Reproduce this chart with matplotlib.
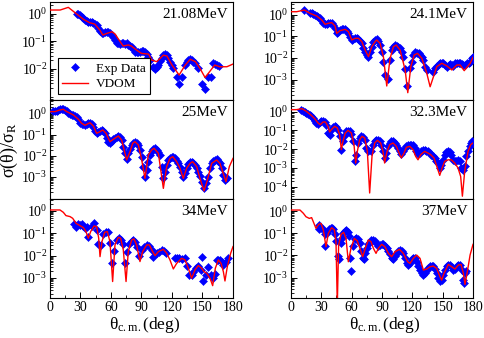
import matplotlib
matplotlib.use("Agg")
import matplotlib.pyplot as plt
from matplotlib.ticker import FixedLocator, LogLocator, NullFormatter, MultipleLocator
import numpy as np

plt.rcParams['font.family'] = ['Liberation Serif', 'DejaVu Serif']
plt.rcParams['mathtext.fontset'] = 'custom'
plt.rcParams['mathtext.rm'] = 'Liberation Serif'
plt.rcParams['mathtext.it'] = 'Liberation Serif:italic'
plt.rcParams['mathtext.default'] = 'regular'
plt.rcParams['axes.unicode_minus'] = False

# ---- 21.08 MeV ----
th_exp_2108 = [26.2, 27.9, 29.5, 31.1, 32.8, 34.4, 36.1, 37.7, 39.3, 41.0, 42.6, 44.3, 45.9, 47.5, 49.2,
               50.8, 52.5, 54.1, 55.7, 57.4, 59.0, 60.7, 62.3, 63.9, 65.6, 67.2, 68.9, 70.5, 72.1, 73.8,
               75.4, 77.0, 78.7, 80.3, 82.0, 83.6, 85.2, 86.9, 88.5, 90.2, 91.8, 93.4, 95.1, 96.7, 98.4,
               101.6, 103.3, 104.9, 106.6, 108.2, 109.8, 111.5, 113.1, 114.8, 116.4, 118.0, 119.7, 121.3,
               124.6, 126.9, 129.5, 132.8, 134.4, 136.1, 137.7, 139.3, 141.0, 142.6, 145.9, 149.2, 152.5,
               155.7, 158.0, 160.7, 162.3, 163.9, 166.6]
sig_exp_2108 = [0.97, 0.95, 0.90, 0.78, 0.68, 0.59, 0.54, 0.50, 0.51, 0.48, 0.46, 0.42, 0.39, 0.29, 0.24,
                0.204, 0.193, 0.21, 0.215, 0.21, 0.193, 0.168, 0.146, 0.110, 0.088, 0.083, 0.081, 0.083,
                0.083, 0.079, 0.083, 0.073, 0.067, 0.063, 0.050, 0.0415, 0.039, 0.0415, 0.0415, 0.044,
                0.044, 0.0415, 0.034, 0.026, 0.0207, 0.0118, 0.0095, 0.0118, 0.0136, 0.019, 0.024, 0.031,
                0.034, 0.031, 0.024, 0.018, 0.0136, 0.0103, 0.0048, 0.0029, 0.0048, 0.0136, 0.018, 0.0207,
                0.022, 0.0207, 0.018, 0.0156, 0.0103, 0.0029, 0.0019, 0.0048, 0.0048, 0.0156, 0.0148,
                0.0136, 0.0125]
th_vdom_2108 = [0, 10, 18, 24.6, 33, 39, 44, 49, 52, 56, 61, 64, 69, 72, 77, 80, 85, 90, 97, 100, 105,
                111.5, 115, 120, 127, 133, 138, 143, 147.5, 152.5, 157, 162, 167, 174, 180]
sig_vdom_2108 = [1.36, 1.36, 1.7, 1.09, 0.62, 0.47, 0.42, 0.255, 0.168, 0.193, 0.22, 0.182, 0.096, 0.067,
                 0.073, 0.067, 0.048, 0.036, 0.034, 0.0207, 0.018, 0.031, 0.029, 0.0136, 0.0059, 0.0136,
                 0.022, 0.018, 0.0103, 0.0048, 0.0078, 0.0136, 0.0118, 0.0118, 0.0148]

# ---- 24.1 MeV ----
th_exp_241 = [13.2, 18.8, 20.5, 22.1, 23.8, 25.4, 27.1, 28.7, 30.4, 32.0, 33.7, 35.3, 37.0, 38.6, 40.3,
              41.9, 43.6, 45.2, 46.9, 48.5, 50.2, 51.8, 53.5, 55.1, 56.8, 58.4, 60.1, 61.7, 63.4, 65.0,
              66.7, 68.3, 70.0, 71.6, 73.3, 74.9, 76.6, 78.2, 79.9, 81.5, 83.2, 84.8, 86.5, 88.1, 89.8,
              91.4, 93.1, 96.4, 98.0, 99.7, 101.3, 103.0, 104.6, 106.3, 107.9, 109.6, 111.2, 112.9, 114.5,
              117.8, 119.5, 121.1, 122.8, 124.4, 126.1, 127.7, 129.4, 131.0, 132.7, 134.3, 140.9, 142.6,
              144.2, 145.9, 147.5, 149.2, 150.8, 152.5, 154.1, 155.8, 157.4, 159.1, 160.7, 162.4, 164.0,
              165.7, 167.3, 169.0, 170.6, 172.3, 173.9, 175.6, 177.2, 178.9, 179.6]
sig_exp_241 = [1.64, 1.24, 1.15, 1.07, 0.97, 0.90, 0.81, 0.68, 0.53, 0.40, 0.36, 0.37, 0.40, 0.43, 0.40,
               0.33, 0.234, 0.148, 0.164, 0.196, 0.21, 0.218, 0.21, 0.183, 0.137, 0.090, 0.068, 0.073,
               0.081, 0.081, 0.073, 0.063, 0.0475, 0.028, 0.0196, 0.0137, 0.0115, 0.0196, 0.033, 0.053,
               0.068, 0.073, 0.063, 0.040, 0.0196, 0.0068, 0.00164, 0.00107, 0.0081, 0.0234, 0.033, 0.040,
               0.036, 0.033, 0.028, 0.0196, 0.0115, 0.0031, 0.00051, 0.0033, 0.0068, 0.0137, 0.0196,
               0.0176, 0.0164, 0.0137, 0.0107, 0.0081, 0.0040, 0.0028, 0.00234, 0.0033, 0.0043, 0.0053,
               0.0057, 0.0061, 0.0057, 0.00475, 0.0040, 0.00475, 0.0051, 0.00475, 0.0043, 0.0057, 0.0061,
               0.0061, 0.0057, 0.0053, 0.00475, 0.00475, 0.0057, 0.0057, 0.0068, 0.0097, 0.0115]
th_vdom_241 = [0, 5.6, 13.2, 18.8, 25.4, 30.4, 33.7, 37.0, 40.3, 43.6, 45.2, 48.5, 53.5, 56.8, 60.1, 63.4,
               66.7, 70.0, 73.3, 76.6, 79.9, 83.2, 84.8, 88.1, 91.4, 94.7, 98.0, 101.3, 104.0, 107.9,
               112.9, 115.5, 118.5, 121.8, 125.1, 129.4, 134.3, 137.6, 140.9, 144.2, 149.2, 154.1, 159.1,
               164.0, 167.3, 171.3, 177.2, 180]
sig_vdom_241 = [1.37, 1.37, 1.64, 1.15, 0.87, 0.57, 0.36, 0.40, 0.43, 0.30, 0.137, 0.183, 0.21, 0.164,
                0.068, 0.081, 0.081, 0.057, 0.0234, 0.0115, 0.033, 0.057, 0.068, 0.0475, 0.0115, 0.00051,
                0.0097, 0.033, 0.040, 0.0234, 0.0028, 0.00025, 0.0040, 0.0137, 0.0164, 0.0097, 0.00196,
                0.00047, 0.00137, 0.0040, 0.0057, 0.0043, 0.0028, 0.00475, 0.00475, 0.0026, 0.0057, 0.0107]

# ---- 25 MeV ----
th_exp_25 = [2.6, 4.9, 6.6, 8.2, 9.8, 11.5, 13.1, 14.8, 16.4, 18.0, 19.7, 21.3, 23.0, 24.6, 26.2, 27.9,
             29.5, 31.1, 32.8, 34.4, 36.1, 37.7, 39.3, 41.0, 42.6, 44.3, 45.9, 47.5, 49.2, 50.8, 52.5,
             54.1, 55.7, 57.4, 59.0, 60.7, 62.3, 63.9, 65.6, 67.2, 68.9, 70.5, 72.1, 73.8, 75.4, 77.0,
             78.7, 80.3, 82.0, 83.6, 85.2, 86.9, 88.5, 90.2, 91.8, 93.4, 95.1, 96.7, 98.4, 100.0, 101.6,
             103.3, 104.9, 106.6, 108.2, 109.8, 111.5, 113.1, 114.8, 116.4, 118.0, 119.7, 121.3, 123.0,
             124.6, 126.2, 127.9, 129.5, 131.1, 132.8, 134.4, 136.1, 137.7, 139.3, 141.0, 142.6, 144.3,
             145.9, 147.5, 149.2, 151.5, 153.4, 155.7, 157.4, 159.0, 160.7, 162.3, 163.9, 165.6, 167.2,
             168.9, 170.5, 172.5, 174.4]
sig_exp_25 = [1.34, 1.34, 1.39, 1.49, 1.60, 1.66, 1.60, 1.49, 1.29, 1.11, 0.96, 0.86, 0.86, 0.80, 0.72,
              0.54, 0.37, 0.32, 0.31, 0.30, 0.32, 0.35, 0.37, 0.32, 0.24, 0.156, 0.117, 0.140, 0.156,
              0.168, 0.156, 0.117, 0.068, 0.047, 0.042, 0.052, 0.061, 0.068, 0.081, 0.087, 0.075, 0.056,
              0.0273, 0.0132, 0.0069, 0.0132, 0.0204, 0.033, 0.042, 0.047, 0.042, 0.033, 0.019, 0.0092,
              0.0031, 0.00096, 0.00214, 0.0053, 0.011, 0.0176, 0.0204, 0.0228, 0.019, 0.0158, 0.011,
              0.0031, 0.00086, 0.00178, 0.0037, 0.0064, 0.0076, 0.0085, 0.0092, 0.0076, 0.0059, 0.0044,
              0.0031, 0.00178, 0.00103, 0.00149, 0.0026, 0.0041, 0.0049, 0.0053, 0.0048, 0.0037, 0.0026,
              0.00178, 0.00111, 0.0006, 0.00029, 0.0005, 0.00103, 0.0026, 0.0044, 0.0057, 0.0064, 0.0069,
              0.0059, 0.0044, 0.0026, 0.00124, 0.00072, 0.00086]
th_vdom_25 = [0, 4.9, 9.8, 13.1, 16.4, 19.7, 23.0, 27.9, 31.1, 34.4, 36.7, 39.3, 42.6, 45.9, 49.2, 51.8,
              55.1, 59.0, 62.3, 67.2, 70.5, 75.4, 78.7, 81.3, 83.6, 86.9, 90.2, 93.4, 96.7, 100.0, 102.3,
              106.6, 111.5, 114.8, 118.0, 120.7, 124.6, 127.9, 131.1, 134.4, 137.7, 140.3, 144.3, 147.5,
              151.5, 154.8, 159.0, 163.9, 167.2, 169.8, 173.1, 176.4, 180]
sig_vdom_25 = [1.24, 1.24, 1.49, 1.60, 1.24, 1.04, 0.86, 0.54, 0.35, 0.28, 0.32, 0.37, 0.26, 0.117, 0.140,
               0.168, 0.117, 0.047, 0.061, 0.087, 0.056, 0.0064, 0.0158, 0.039, 0.047, 0.033, 0.0064,
               0.00086, 0.011, 0.019, 0.0228, 0.0132, 0.00029, 0.0031, 0.0076, 0.0092, 0.0053, 0.0026,
               0.00086, 0.0026, 0.0044, 0.0053, 0.0031, 0.00086, 0.00022, 0.00072, 0.0044, 0.0064, 0.0044,
               0.00178, 0.0006, 0.0031, 0.0076]

# ---- 32.3 MeV ----
th_exp_323 = [10.2, 11.9, 13.5, 15.2, 16.8, 18.5, 20.1, 21.8, 23.4, 25.1, 26.7, 28.4, 30.0, 31.7, 33.3,
              34.9, 36.6, 38.2, 39.9, 41.5, 43.2, 44.8, 46.5, 48.1, 49.8, 51.4, 53.1, 54.7, 56.4, 58.0,
              59.7, 61.3, 63.0, 64.6, 66.3, 67.9, 69.6, 71.2, 72.9, 74.5, 76.2, 79.5, 81.1, 82.8, 84.4,
              86.1, 87.7, 89.4, 91.0, 92.6, 94.3, 95.9, 97.6, 99.2, 100.9, 102.5, 104.2, 105.8, 107.5,
              109.1, 110.8, 112.4, 114.1, 115.7, 117.4, 119.0, 120.7, 122.3, 124.0, 125.6, 127.3, 128.9,
              130.6, 132.2, 133.9, 135.5, 137.2, 138.8, 140.5, 142.1, 143.8, 145.4, 147.1, 148.7, 150.3,
              152.0, 153.6, 155.3, 156.9, 158.6, 160.2, 161.9, 163.5, 165.2, 166.8, 168.5, 170.1, 171.8,
              173.4, 175.1, 176.7, 178.4, 179.5]
sig_exp_323 = [1.27, 1.12, 0.95, 0.84, 0.78, 0.69, 0.61, 0.46, 0.33, 0.25, 0.218, 0.28, 0.30, 0.33, 0.28,
               0.185, 0.072, 0.059, 0.109, 0.145, 0.171, 0.151, 0.109, 0.048, 0.0094, 0.026, 0.059, 0.089,
               0.096, 0.089, 0.064, 0.026, 0.00224, 0.0051, 0.0212, 0.039, 0.048, 0.044, 0.032, 0.0115,
               0.0076, 0.0076, 0.0173, 0.026, 0.032, 0.032, 0.026, 0.0173, 0.0076, 0.0034, 0.0062, 0.0141,
               0.0212, 0.026, 0.026, 0.0212, 0.0173, 0.0115, 0.0076, 0.0055, 0.0076, 0.0115, 0.0141,
               0.0173, 0.0173, 0.0173, 0.016, 0.0115, 0.0076, 0.0055, 0.0062, 0.0076, 0.0094, 0.0094,
               0.0083, 0.0076, 0.0062, 0.0051, 0.0041, 0.0034, 0.00224, 0.00182, 0.00099, 0.00149, 0.0027,
               0.0047, 0.0068, 0.0076, 0.0068, 0.0051, 0.0027, 0.00224, 0.0024, 0.0027, 0.0024, 0.00099,
               0.0008, 0.00121, 0.0041, 0.0076, 0.0141, 0.0212, 0.026]
th_vdom_323 = [0, 5.3, 10.9, 15.2, 20.1, 23.4, 26.7, 29.0, 31.7, 34.0, 36.6, 38.2, 39.9, 43.2, 45.8, 48.1,
               49.8, 51.4, 53.7, 56.4, 59.7, 62.3, 64.0, 65.6, 67.9, 70.2, 72.9, 75.5, 77.8, 80.1, 82.8,
               85.4, 88.7, 91.0, 92.6, 95.0, 97.6, 100.9, 104.2, 107.5, 109.1, 111.8, 114.1, 117.4, 120.7,
               123.3, 125.6, 128.3, 132.2, 135.5, 138.1, 141.4, 144.7, 147.1, 149.4, 152.0, 155.3, 158.6,
               161.9, 165.2, 167.8, 169.5, 171.8, 175.1, 177.7, 180.0]
sig_vdom_323 = [1.27, 1.27, 1.43, 1.03, 0.63, 0.42, 0.25, 0.20, 0.28, 0.28, 0.164, 0.082, 0.109, 0.164,
                0.134, 0.059, 0.0094, 0.026, 0.072, 0.100, 0.072, 0.0173, 0.00182, 0.0076, 0.032, 0.048,
                0.039, 0.0076, 4.6e-5, 0.0041, 0.0212, 0.0294, 0.0212, 0.0076, 0.00182, 0.0076, 0.0173,
                0.0212, 0.0141, 0.0051, 0.0034, 0.0062, 0.0125, 0.0141, 0.0094, 0.0041, 0.0027, 0.0051,
                0.0076, 0.0062, 0.0051, 0.0034, 0.00099, 0.0004, 0.00099, 0.00224, 0.0027, 0.0027,
                0.00182, 0.00099, 0.00035, 3.1e-5, 0.00066, 0.0076, 0.0173, 0.0212]

# ---- 34 MeV ----
th_exp_34 = [23.6, 25.6, 27.9, 29.5, 31.1, 32.8, 34.4, 36.1, 37.7, 41.0, 43.3, 45.9, 47.5, 49.8, 52.5,
             55.1, 56.7, 59.0, 61.0, 63.3, 65.6, 67.9, 69.5, 71.5, 73.8, 76.1, 78.0, 80.3, 82.0, 83.6,
             85.9, 87.9, 90.2, 92.5, 95.1, 97.7, 100.0, 101.6, 104.9, 107.5, 109.8, 112.1, 114.1, 123.0,
             124.6, 127.2, 129.5, 132.8, 135.1, 137.0, 139.3, 141.0, 143.6, 145.9, 148.2, 149.5, 150.8,
             153.4, 155.7, 158.0, 160.0, 162.3, 163.9, 165.6, 167.2, 168.9, 170.5, 173.1, 175.4]
sig_exp_34 = [0.253, 0.199, 0.253, 0.236, 0.253, 0.22, 0.18, 0.199, 0.071, 0.22, 0.28, 0.141, 0.0321,
              0.030, 0.090, 0.111, 0.111, 0.0356, 0.0045, 0.0162, 0.050, 0.060, 0.050, 0.0321, 0.0045,
              0.0141, 0.0321, 0.045, 0.050, 0.042, 0.0253, 0.0097, 0.0179, 0.0253, 0.030, 0.027, 0.0179,
              0.0090, 0.0127, 0.0151, 0.0179, 0.0162, 0.0127, 0.0076, 0.0076, 0.0076, 0.0071, 0.0076,
              0.0036, 0.00136, 0.00136, 0.00179, 0.0029, 0.0034, 0.00228, 0.0090, 0.00073, 0.00136,
              0.0032, 0.0013, 0.00097, 0.00146, 0.0064, 0.0064, 0.0064, 0.0054, 0.0038, 0.0054, 0.0076]
th_vdom_34 = [0, 9.8, 13.1, 15.7, 19.7, 22.3, 25.6, 29.5, 32.8, 35.4, 37.7, 40.0, 43.3, 45.9, 47.9, 49.2,
              51.1, 53.8, 56.4, 59.0, 61.6, 63.9, 67.2, 69.5, 72.1, 74.8, 77.0, 80.3, 82.6, 85.2, 88.5,
              91.1, 95.1, 97.7, 101.0, 103.3, 106.6, 111.5, 114.8, 118.0, 121.3, 124.6, 129.5, 132.8,
              136.1, 139.3, 142.6, 145.9, 149.2, 151.5, 154.1, 157.4, 160.0, 162.6, 165.6, 168.2, 170.5,
              172.1, 174.4, 177.7, 180]
sig_vdom_34 = [1.11, 1.11, 0.87, 0.62, 0.56, 0.47, 0.28, 0.22, 0.18, 0.119, 0.060, 0.119, 0.213, 0.199,
               0.060, 0.0090, 0.042, 0.111, 0.119, 0.042, 0.00069, 0.030, 0.066, 0.060, 0.0179, 0.00069,
               0.0151, 0.050, 0.056, 0.030, 0.0054, 0.0151, 0.030, 0.030, 0.0151, 0.0100, 0.0151, 0.0192,
               0.0127, 0.0064, 0.00253, 0.0045, 0.0076, 0.0064, 0.0027, 0.00097, 0.00228, 0.0036, 0.0027,
               0.00192, 0.00162, 0.00097, 0.00045, 0.0027, 0.0064, 0.0045, 0.00192, 0.00073, 0.0032,
               0.0127, 0.0253]

# ---- 37 MeV ----
th_exp_37 = [27.7, 27.7, 29.3, 31.7, 33.3, 34.0, 35.9, 37.3, 39.2, 40.6, 41.5, 43.2, 44.8, 46.5, 47.1,
             49.1, 50.4, 51.4, 53.1, 54.7, 56.4, 57.4, 58.0, 59.0, 61.3, 63.0, 64.6, 66.3, 67.9, 69.6,
             71.2, 72.2, 73.5, 74.9, 76.2, 77.8, 79.5, 81.1, 82.8, 84.4, 86.1, 88.0, 89.7, 91.3, 92.9,
             94.6, 96.3, 97.9, 99.6, 101.2, 102.9, 104.5, 106.2, 107.8, 109.5, 111.1, 112.8, 114.4, 116.1,
             117.7, 119.4, 121.0, 122.7, 124.3, 125.9, 127.6, 129.2, 130.9, 132.5, 134.2, 135.8, 137.5,
             139.1, 140.8, 142.4, 144.1, 145.7, 147.4, 149.0, 150.7, 152.3, 154.0, 155.6, 157.3, 158.9,
             160.6, 162.2, 163.9, 165.5, 167.2, 168.8, 170.5, 171.1, 172.1, 173.1]
sig_exp_37 = [0.228, 0.151, 0.179, 0.151, 0.090, 0.0266, 0.106, 0.151, 0.167, 0.179, 0.151, 0.090, 0.045,
              0.0094, 0.0066, 0.0376, 0.063, 0.106, 0.126, 0.141, 0.114, 0.075, 0.0079, 0.00197, 0.0266,
              0.053, 0.063, 0.057, 0.0376, 0.0158, 0.0079, 0.0066, 0.0133, 0.022, 0.0316, 0.040, 0.050,
              0.048, 0.045, 0.036, 0.0266, 0.0285, 0.0316, 0.0316, 0.0266, 0.0224, 0.0158, 0.0112, 0.0079,
              0.0066, 0.0094, 0.0133, 0.0158, 0.0169, 0.0158, 0.0124, 0.0079, 0.0047, 0.0039, 0.0047,
              0.0066, 0.0079, 0.0074, 0.0052, 0.0034, 0.00219, 0.00155, 0.0013, 0.00155, 0.00219, 0.0028,
              0.0033, 0.0034, 0.0033, 0.00243, 0.00155, 0.00092, 0.0007, 0.00077, 0.0013, 0.00219, 0.0034,
              0.0039, 0.0037, 0.0031, 0.00219, 0.00243, 0.0033, 0.0039, 0.0037, 0.00219, 0.00077, 0.00055,
              0.00155, 0.00197]
th_vdom_37 = [0, 8.9, 12.2, 14.8, 18.1, 20.4, 22.7, 24.7, 27.4, 29.7, 32.0, 34.6, 36.9, 40.2, 42.9, 44.5,
              45.8, 47.1, 49.5, 52.1, 54.4, 56.7, 59.3, 62.6, 65.6, 68.2, 70.9, 73.5, 76.5, 79.1, 81.5,
              84.1, 86.4, 89.7, 92.9, 96.3, 99.6, 102.9, 107.2, 111.1, 115.4, 117.7, 121.0, 124.3, 127.6,
              130.9, 134.2, 137.5, 140.8, 144.1, 147.4, 149.0, 151.3, 155.6, 158.9, 162.2, 165.5, 168.2,
              170.5, 172.1, 174.4, 177.1, 180]
sig_vdom_37 = [1.12, 1.12, 0.80, 0.56, 0.47, 0.51, 0.28, 0.167, 0.253, 0.28, 0.141, 0.0248, 0.099, 0.179,
               0.141, 0.042, 5.7e-5, 0.0295, 0.090, 0.110, 0.059, 0.0052, 0.0209, 0.059, 0.045, 0.0209,
               0.0088, 0.0209, 0.050, 0.042, 0.0209, 0.0124, 0.0209, 0.0316, 0.0248, 0.0124, 0.0088,
               0.0148, 0.0188, 0.0124, 0.0052, 0.0044, 0.0074, 0.0104, 0.0074, 0.00219, 0.00243, 0.0031,
               0.0033, 0.0026, 0.00109, 0.00077, 0.00155, 0.0039, 0.0031, 0.00243, 0.0037, 0.0039,
               0.00155, 0.00049, 0.00184, 0.0104, 0.0316]

energies = ["21.08MeV", "24.1MeV", "25MeV", "32.3MeV", "34MeV", "37MeV"]

W, H = 485, 338
fig = plt.figure(figsize=(W / 100, H / 100), dpi=100)

# pixel boxes (left, top, right, bottom)
boxes = [(50, 2, 233, 100), (291, 2, 473, 100),
         (50, 100, 233, 199), (291, 100, 473, 199),
         (50, 199, 233, 298), (291, 199, 473, 298)]
ylims = [(7.3e-4, 2.66), (1.15e-4, 3.85), (9.1e-5, 4.4), (2.2e-5, 4.15), (1.26e-4, 3.44), (1.2e-4, 3.53)]
majors = [[1, 1e-1, 1e-2], [1, 1e-1, 1e-2, 1e-3], [1, 1e-1, 1e-2, 1e-3],
          [1, 1e-1, 1e-2, 1e-3, 1e-4], [1, 1e-1, 1e-2, 1e-3], [1, 1e-1, 1e-2, 1e-3]]
data = [(th_exp_2108, sig_exp_2108, th_vdom_2108, sig_vdom_2108),
        (th_exp_241, sig_exp_241, th_vdom_241, sig_vdom_241),
        (th_exp_25, sig_exp_25, th_vdom_25, sig_vdom_25),
        (th_exp_323, sig_exp_323, th_vdom_323, sig_vdom_323),
        (th_exp_34, sig_exp_34, th_vdom_34, sig_vdom_34),
        (th_exp_37, sig_exp_37, th_vdom_37, sig_vdom_37)]

axes = []
for i, (l, t, r, b) in enumerate(boxes):
    ax = fig.add_axes([l / W, (H - b) / H, (r - l) / W, (b - t) / H])
    te, se, tv, sv = data[i]
    ax.plot(te, se, linestyle='none', marker='D', ms=3.6, mfc='#0000ff', mec='#0000ff',
            mew=0.4, label='Exp Data', zorder=3)
    ax.plot(tv, sv, color='#ff0000', lw=1.0, label='VDOM', zorder=4)
    ax.set_yscale('log')
    ax.set_xlim(0, 180)
    ax.set_ylim(*ylims[i])
    ax.yaxis.set_major_locator(FixedLocator(majors[i]))
    ax.yaxis.set_minor_locator(LogLocator(base=10, subs=np.arange(2, 10), numticks=30))
    ax.yaxis.set_minor_formatter(NullFormatter())
    ax.xaxis.set_major_locator(MultipleLocator(30))
    ax.xaxis.set_minor_locator(MultipleLocator(15))
    ax.tick_params(which='both', direction='in', top=False, right=False, labelsize=10)
    ax.tick_params(axis='y', which='major', length=4.5, width=0.7, pad=2)
    ax.tick_params(axis='y', which='minor', length=2.2, width=0.6)
    ax.tick_params(axis='x', which='major', length=4.5, width=0.7, pad=2.5)
    ax.tick_params(axis='x', which='minor', length=2.5, width=0.6)
    if i < 4:
        ax.tick_params(axis='x', which='both', bottom=False, labelbottom=False)
    for sp in ax.spines.values():
        sp.set_linewidth(0.8)
    ax.text(0.97, 0.87, energies[i], transform=ax.transAxes, ha='right', va='center', fontsize=11)
    axes.append(ax)

leg = axes[0].legend(loc='lower left', bbox_to_anchor=(0.044, 0.06), borderaxespad=0, fontsize=9.5,
                     fancybox=False, edgecolor='black', framealpha=1, handlelength=2.0,
                     handletextpad=0.6, borderpad=0.3, labelspacing=0.25, numpoints=1)
leg.get_frame().set_linewidth(0.8)

fig.text(0.02, 0.556, 'σ(θ)/σ$_{R}$', rotation=90, ha='center', va='center', fontsize=13)
fig.text(145 / W, 0.038, 'θ$_{c.m.}$(deg)', ha='center', va='center', fontsize=12.5)
fig.text(385 / W, 0.038, 'θ$_{c.m.}$(deg)', ha='center', va='center', fontsize=12.5)

fig.savefig('out.png', dpi=100)
